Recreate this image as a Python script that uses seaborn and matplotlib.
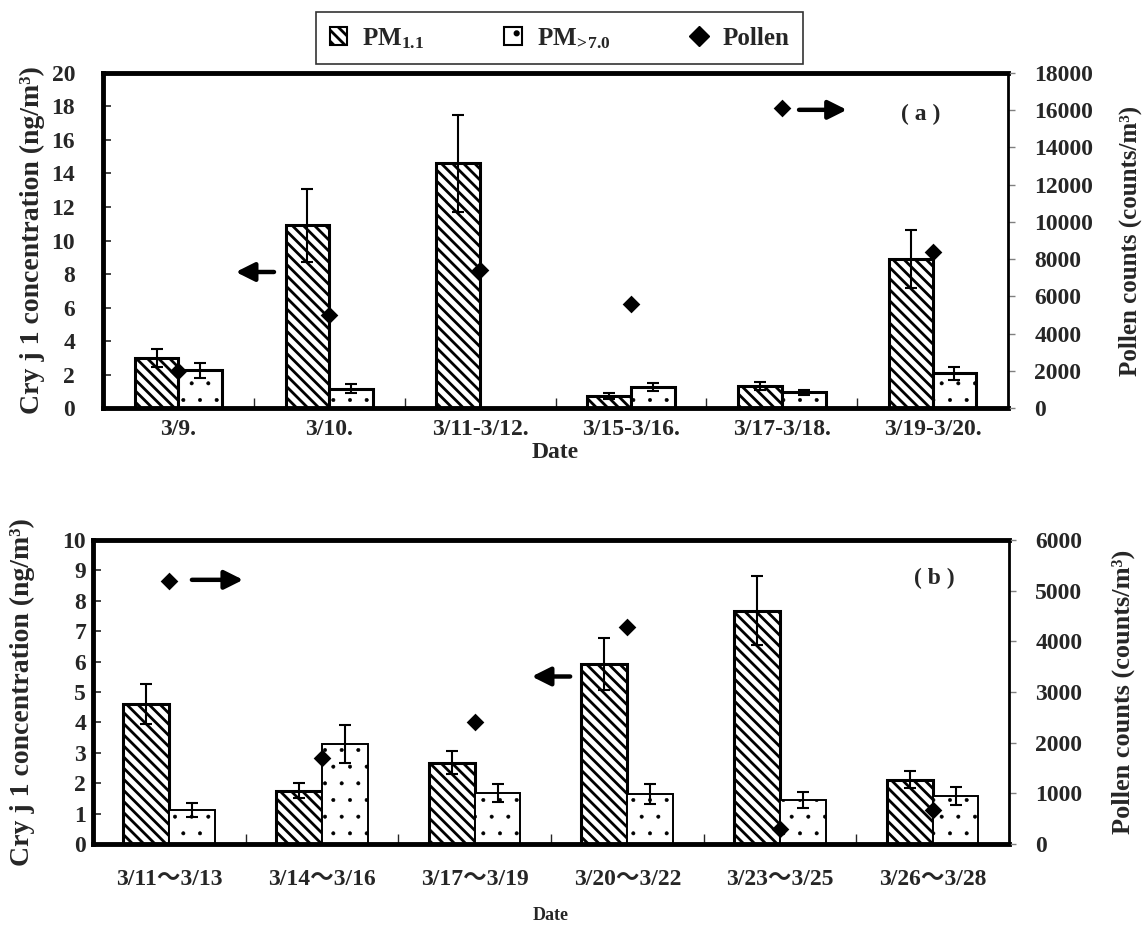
import numpy as np
import pandas as pd
import seaborn as sns
import matplotlib.pyplot as plt
from matplotlib.patches import Patch
from matplotlib.lines import Line2D

# ---- panel (a) ----
dates_a = ["3/9.", "3/10.", "3/11-3/12.", "3/15-3/16.", "3/17-3/18.", "3/19-3/20."]
pm11_a = [3.0, 10.9, 14.6, 0.72, 1.31, 8.9]
pm11_err_a = [0.55, 2.2, 2.9, 0.16, 0.25, 1.75]
pm7_a = [2.25, 1.15, 0.0, 1.27, 0.94, 2.07]
pm7_err_a = [0.45, 0.28, np.nan, 0.25, 0.14, 0.4]
pollen_a = [2000, 5000, 7400, 5600, 16100, 8400]

# ---- panel (b) ----
dates_b = ["3/11～3/13", "3/14～3/16", "3/17～3/19", "3/20～3/22", "3/23～3/25", "3/26～3/28"]
pm11_b = [4.6, 1.76, 2.68, 5.92, 7.68, 2.11]
pm11_err_b = [0.66, 0.25, 0.38, 0.85, 1.15, 0.28]
pm7_b = [1.13, 3.29, 1.68, 1.65, 1.45, 1.57]
pm7_err_b = [0.23, 0.63, 0.3, 0.32, 0.27, 0.29]
pollen_b = [5200, 1700, 2400, 4280, 300, 680]

series = ["PM1.1", "PM>7.0"]

sns.set_style("ticks")
plt.rcParams["font.family"] = ["Liberation Serif", "Noto Sans CJK JP"]
plt.rcParams["font.weight"] = "bold"
plt.rcParams["axes.labelweight"] = "bold"
plt.rcParams["mathtext.fontset"] = "custom"
plt.rcParams["mathtext.rm"] = "Liberation Serif:bold"
plt.rcParams["mathtext.bf"] = "Liberation Serif:bold"
plt.rcParams["mathtext.default"] = "rm"
plt.rcParams["hatch.linewidth"] = 2.0

STRIPES = "\\\\\\"


def draw_panel(ax, dates, pm11, pm11_err, pm7, pm7_err, pollen,
               ymax, y2max, y2step, width, lw7, lpad, rpad):
    df = pd.DataFrame({
        "date": dates * 2,
        "series": [series[0]] * len(dates) + [series[1]] * len(dates),
        "value": list(pm11) + list(pm7),
    })
    sns.barplot(data=df, x="date", y="value", hue="series", order=dates,
                hue_order=series, palette=["white", "white"], width=width,
                gap=0, errorbar=None, edgecolor="black", linewidth=2.2,
                legend=False, ax=ax)

    hatches = [STRIPES, "."]
    hlws = [2.0, 0.4]
    lws = [2.2, lw7]
    for cont, h, hlw, lw, errs in zip(ax.containers, hatches, hlws, lws,
                                      [pm11_err, pm7_err]):
        for bar, e in zip(cont, errs):
            bar.set_hatch(h)
            if hasattr(bar, "set_hatch_linewidth"):
                bar.set_hatch_linewidth(hlw)
            bar.set_linewidth(lw)
            bar.set_edgecolor("black")
            if np.isnan(e):
                continue
            ax.errorbar(bar.get_x() + bar.get_width() / 2, bar.get_height(),
                        yerr=e, fmt="none", ecolor="black", elinewidth=1.5,
                        capsize=4, capthick=1.5, zorder=5)

    ax2 = ax.twinx()
    sns.stripplot(x=dates, y=pollen, order=dates, ax=ax2, marker="D",
                  color="black", size=9, jitter=False, linewidth=0, zorder=6)

    ax.set_xlim(-0.5, len(dates) - 0.5)
    ax.set_ylim(0, ymax)
    ax.set_yticks(np.arange(0, ymax + 0.01, 2 if ymax > 10 else 1))
    ax2.set_ylim(0, y2max)
    ax2.set_yticks(np.arange(0, y2max + 1, y2step))

    ax.set_xticks(np.arange(0.5, len(dates) - 1, 1), minor=True)
    ax.tick_params(axis="x", which="major", length=0)
    ax.tick_params(axis="x", which="minor", direction="in", length=7, width=1)
    ax.tick_params(axis="y", direction="in", length=6, width=1.2,
                   labelsize=17, pad=lpad)
    ax2.tick_params(axis="y", direction="out", length=5, width=1,
                    color="gray", labelsize=17, pad=rpad)

    for s in ["top", "left", "bottom"]:
        ax.spines[s].set_linewidth(3.5)
        ax.spines[s].set_color("black")
    ax.spines["right"].set_visible(False)
    for s in ["top", "left", "bottom"]:
        ax2.spines[s].set_visible(False)
    ax2.spines["right"].set_linewidth(2)
    ax2.spines["right"].set_color("black")
    ax2.set_ylabel("")
    ax2.set_xlabel("")
    return ax2


fig = plt.figure(figsize=(11.42, 9.32), dpi=100)
ax_a = fig.add_axes([0.0902, 0.5622, 0.7925, 0.3595])
ax_b = fig.add_axes([0.0814, 0.0944, 0.8021, 0.3262])

ax2_a = draw_panel(ax_a, dates_a, pm11_a, pm11_err_a, pm7_a, pm7_err_a,
                   pollen_a, 20, 18000, 2000, 0.58, 2.2, 20, 14)
ax2_b = draw_panel(ax_b, dates_b, pm11_b, pm11_err_b, pm7_b, pm7_err_b,
                   pollen_b, 10, 6000, 1000, 0.60, 1.4, 5, 14)

# axis labels
ax_a.tick_params(axis="x", which="major", labelsize=17, pad=8)
ax_a.set_xlabel("Date", fontsize=17, labelpad=1)
ax_b.tick_params(axis="x", which="major", labelsize=17, pad=18)
ax_b.set_xlabel("Date", fontsize=13, labelpad=12)

ylab = "Cry j 1 concentration (ng/m³)"
ax_a.set_ylabel(ylab, fontsize=20)
ax_a.yaxis.set_label_coords(-0.064, 0.5)
ax2_a.set_ylabel("Pollen counts (counts/m³)", fontsize=18)
ax2_a.yaxis.set_label_coords(1.122, 0.5)
ax_b.set_ylabel(ylab, fontsize=20)
ax_b.yaxis.set_label_coords(-0.063, 0.5)
ax2_b.set_ylabel("Pollen counts (counts/m³)", fontsize=19)
ax2_b.yaxis.set_label_coords(1.112, 0.5)

# arrows and panel tags
arrow = dict(arrowstyle="-|>", lw=3.2, color="black", mutation_scale=28)
ax_a.annotate("", xy=(0.1436, 0.406), xytext=(0.192, 0.406),
              xycoords="axes fraction", arrowprops=arrow)
ax_a.annotate("", xy=(0.825, 0.89), xytext=(0.766, 0.89),
              xycoords="axes fraction", arrowprops=arrow)
ax_a.text(0.903, 0.875, "( a )", transform=ax_a.transAxes, fontsize=17,
          ha="center", va="center")
ax_b.annotate("", xy=(0.167, 0.869), xytext=(0.105, 0.869),
              xycoords="axes fraction", arrowprops=arrow)
ax_b.annotate("", xy=(0.476, 0.551), xytext=(0.524, 0.551),
              xycoords="axes fraction", arrowprops=arrow)
ax_b.text(0.919, 0.872, "( b )", transform=ax_b.transAxes, fontsize=17,
          ha="center", va="center")

# legend
handles = [
    Patch(facecolor="white", edgecolor="black", hatch=STRIPES, linewidth=1.5),
    Patch(facecolor="white", edgecolor="black", hatch=".", linewidth=1.5),
    Line2D([], [], marker="D", color="black", linestyle="none", markersize=10),
]
labels = [r"PM$_{1.1}$", r"PM$_{\!>\!7.0}$", "Pollen"]
leg = fig.legend(handles, labels, loc="center", bbox_to_anchor=(0.490, 0.959),
                 ncol=3, fontsize=18, frameon=True, fancybox=False,
                 edgecolor="black", handlelength=0.7, handleheight=0.7,
                 handletextpad=0.6, columnspacing=3.2, borderpad=0.55)
leg.get_frame().set_linewidth(1.2)

fig.savefig("out.png", dpi=100)
